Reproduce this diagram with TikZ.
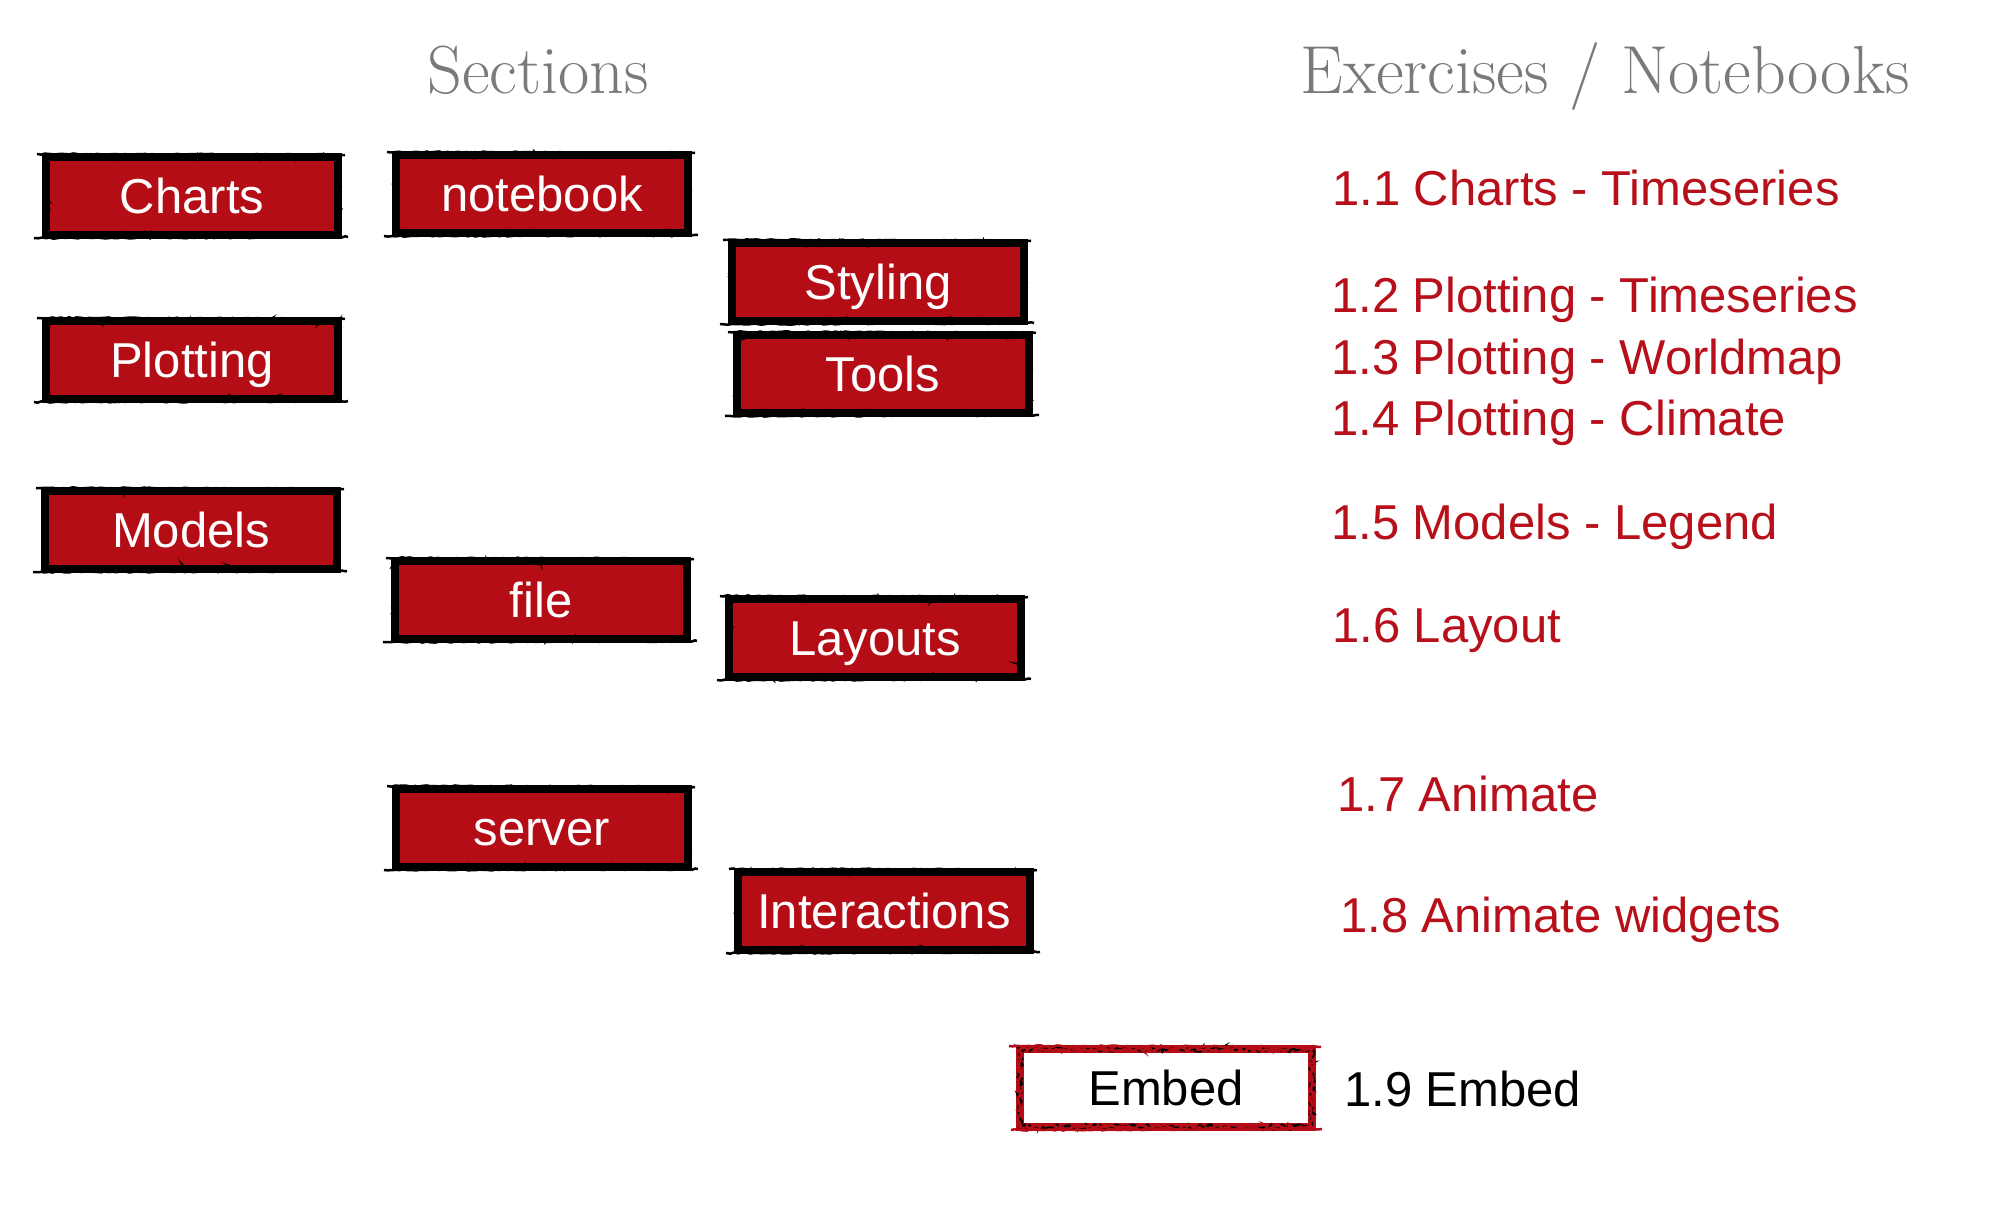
\documentclass[tikz,border=0pt]{standalone}
\usepackage{fontspec}
\newfontfamily\hv{Liberation Sans}
\usetikzlibrary{decorations.pathmorphing}
\definecolor{boxred}{HTML}{B50D16}
\definecolor{txtred}{HTML}{B8101A}
\definecolor{headgray}{HTML}{7A7A7A}
\pgfmathsetseed{7}
\tikzset{
  bodyfont/.style={font=\hv\fontsize{49bp}{58bp}\selectfont},
  headfont/.style={font=\fontsize{68bp}{78bp}\selectfont, text=headgray},
  brushbox/.style={rectangle, bodyfont, fill=boxred, draw=black, line width=8bp,
    minimum width=292bp, minimum height=78bp, inner sep=0pt, text=white,
    text height=35bp, text depth=0bp,
    postaction={draw=black, line width=2.5bp, decorate,
      decoration={random steps, segment length=3bp, amplitude=2.5bp}}},
  embedbox/.style={brushbox, fill=white, draw=boxred, text=black,
    postaction={draw=boxred, line width=2.5bp, decorate,
      decoration={random steps, segment length=3bp, amplitude=2.5bp}}},
  brushedge/.style={line width=2.5bp, decorate,
      decoration={random steps, segment length=4bp, amplitude=0.8bp}},
  exlabel/.style={bodyfont, text=txtred, anchor=base west, inner sep=0pt},
  header/.style={headfont, anchor=base, inner sep=0pt}
}
\begin{document}
\begin{tikzpicture}[x=1bp,y=-1bp]
\useasboundingbox (0,0) rectangle (2002,1212);
\fill[white] (0,0) rectangle (2002,1212);
% headers
\node[header] (hsec) at (538,93) {Sections};
\node[header] (hex) at (1605,93) {Exercises / Notebooks};
% section boxes
\node[brushbox] (charts) at (192,196) {Charts};
\node[brushbox] (plotting) at (192,360) {Plotting};
\node[brushbox] (models) at (191,530) {Models};
\node[brushbox] (notebook) at (542,194) {notebook};
\node[brushbox] (file) at (541,600) {file};
\node[brushbox] (server) at (542,828) {server};
\node[brushbox] (styling) at (878,282) {Styling};
\node[brushbox] (tools) at (883,374) {Tools};
\node[brushbox] (layouts) at (875,638) {Layouts};
\node[brushbox] (interactions) at (884,911) {Interactions};
\node[embedbox] (embed) at (1166,1088) {Embed};
% extra brush strokes on top and bottom edges
\foreach \n in {charts,plotting,models,notebook,file,server,styling,tools,layouts,interactions}{
  \draw[brushedge, draw=black]
    ([xshift=-5bp,yshift=-1bp]\n.north west) -- ([xshift=3bp,yshift=-2bp]\n.north east);
  \draw[brushedge, draw=black]
    ([xshift=-8bp,yshift=1bp]\n.south west) -- ([xshift=6bp,yshift=2bp]\n.south east);
}
\draw[brushedge, draw=boxred]
  ([xshift=-7bp,yshift=-1bp]embed.north west) -- ([xshift=5bp,yshift=-2bp]embed.north east);
\draw[brushedge, draw=boxred]
  ([xshift=-5bp,yshift=1bp]embed.south west) -- ([xshift=6bp,yshift=2bp]embed.south east);
% exercises
\node[exlabel] (t11) at (1332,205) {1.1 Charts - Timeseries};
\node[exlabel] (t12) at (1331,312) {1.2 Plotting - Timeseries};
\node[exlabel] (t13) at (1331,374) {1.3 Plotting - Worldmap};
\node[exlabel] (t14) at (1331,435) {1.4 Plotting - Climate};
\node[exlabel] (t15) at (1331,539) {1.5 Models - Legend};
\node[exlabel] (t16) at (1332,642) {1.6 Layout};
\node[exlabel] (t17) at (1337,811) {1.7 Animate};
\node[exlabel] (t18) at (1340,932) {1.8 Animate widgets};
\node[exlabel, text=black] (t19) at (1344,1106) {1.9 Embed};
\end{tikzpicture}
\end{document}
